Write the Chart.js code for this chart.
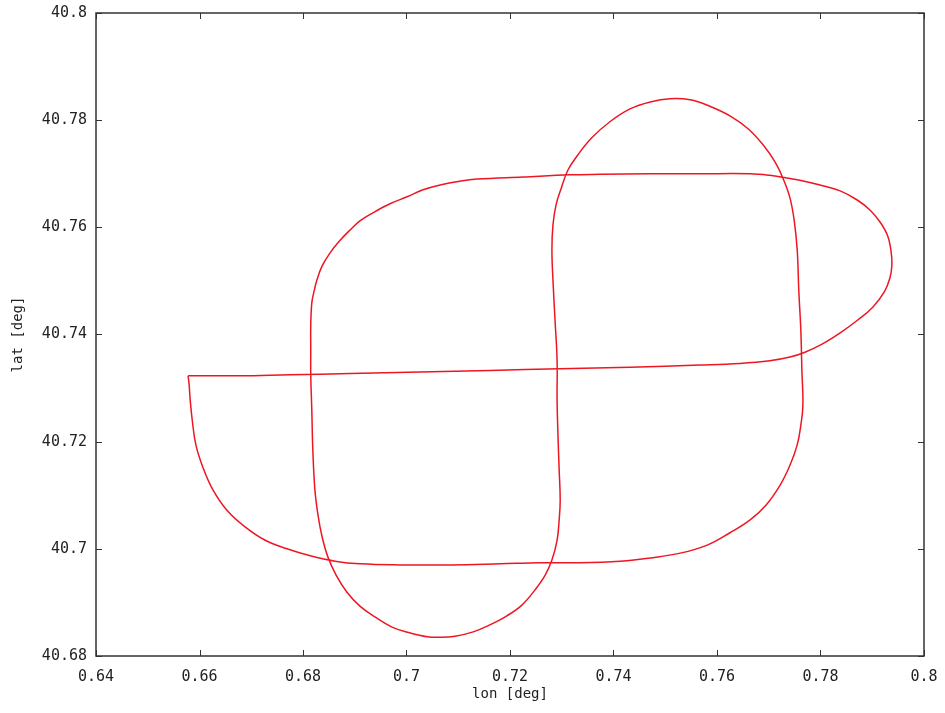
<!DOCTYPE html>
<html>
<head>
<meta charset="utf-8">
<title>lat / lon track</title>
<script src="https://cdn.jsdelivr.net/npm/chart.js@4.4.1/dist/chart.umd.min.js"></script>
<style>
  html, body { margin: 0; padding: 0; background: #fff; }
  #wrap { width: 945px; height: 713px; }
</style>
</head>
<body>
<div id="wrap"><canvas id="track"></canvas></div>
<script>
// track points in the order they were flown (one closed loop)
const lon = [
  0.6578, 0.6678, 0.6775, 0.6891, 0.7026, 0.7161, 0.7297, 0.7432, 0.7567, 0.7644,
  0.7702, 0.7741, 0.7770, 0.7803, 0.7838, 0.7872, 0.7901, 0.7923, 0.7934, 0.7938,
  0.7936, 0.7929, 0.7915, 0.7896, 0.7871, 0.7838, 0.7799, 0.7760, 0.7735, 0.7702,
  0.7664, 0.7567, 0.7471, 0.7374, 0.7316, 0.7225, 0.7136, 0.7103, 0.7065, 0.7032,
  0.7001, 0.6968, 0.6935, 0.6910, 0.6891, 0.6870, 0.6852, 0.6837, 0.6827, 0.6821,
  0.6817, 0.6815, 0.6815, 0.6815, 0.6817, 0.6819, 0.6823, 0.6829, 0.6837, 0.6848,
  0.6864, 0.6885, 0.6910, 0.6939, 0.6972, 0.7007, 0.7040, 0.7065, 0.7094, 0.7129,
  0.7161, 0.7194, 0.7223, 0.7248, 0.7268, 0.7281, 0.7291, 0.7295, 0.7297, 0.7295,
  0.7293, 0.7291, 0.7291, 0.7287, 0.7283, 0.7281, 0.7283, 0.7289, 0.7299, 0.7312,
  0.7331, 0.7358, 0.7393, 0.7432, 0.7471, 0.7509, 0.7548, 0.7586, 0.7625, 0.7660,
  0.7689, 0.7712, 0.7729, 0.7741, 0.7749, 0.7755, 0.7758, 0.7762, 0.7764, 0.7766,
  0.7762, 0.7755, 0.7741, 0.7722, 0.7695, 0.7664, 0.7625, 0.7581, 0.7529, 0.7471,
  0.7413, 0.7335, 0.7258, 0.7181, 0.7084, 0.6987, 0.6910, 0.6862, 0.6814, 0.6769,
  0.6727, 0.6688, 0.6653, 0.6626, 0.6607, 0.6593, 0.6586, 0.6582, 0.6580, 0.6578
];
const lat = [
  40.7323, 40.7323, 40.7325, 40.7327, 40.7330, 40.7333, 40.7336, 40.7339, 40.7343, 40.7346,
  40.7351, 40.7358, 40.7367, 40.7382, 40.7403, 40.7427, 40.7451, 40.7479, 40.7505, 40.7530,
  40.7558, 40.7586, 40.7610, 40.7632, 40.7651, 40.7668, 40.7679, 40.7688, 40.7692, 40.7697,
  40.7700, 40.7700, 40.7700, 40.7699, 40.7698, 40.7694, 40.7690, 40.7686, 40.7679, 40.7670,
  40.7657, 40.7644, 40.7627, 40.7612, 40.7595, 40.7574, 40.7552, 40.7528, 40.7502, 40.7479,
  40.7459, 40.7418, 40.7371, 40.7324, 40.7259, 40.7184, 40.7110, 40.7063, 40.7022, 40.6985,
  40.6951, 40.6919, 40.6893, 40.6873, 40.6854, 40.6843, 40.6836, 40.6835, 40.6837, 40.6845,
  40.6858, 40.6875, 40.6895, 40.6923, 40.6951, 40.6979, 40.7016, 40.7054, 40.7091, 40.7147,
  40.7203, 40.7278, 40.7352, 40.7427, 40.7502, 40.7558, 40.7604, 40.7642, 40.7673, 40.7707,
  40.7735, 40.7767, 40.7797, 40.7821, 40.7834, 40.7840, 40.7838, 40.7826, 40.7808, 40.7784,
  40.7754, 40.7722, 40.7688, 40.7655, 40.7614, 40.7558, 40.7483, 40.7408, 40.7334, 40.7268,
  40.7231, 40.7194, 40.7156, 40.7119, 40.7082, 40.7054, 40.7030, 40.7007, 40.6992, 40.6983,
  40.6977, 40.6974, 40.6974, 40.6972, 40.6970, 40.6970, 40.6972, 40.6977, 40.6987, 40.7000,
  40.7016, 40.7041, 40.7072, 40.7110, 40.7151, 40.7194, 40.7240, 40.7278, 40.7306, 40.7323
];

const xTickValues = [0.64, 0.66, 0.68, 0.70, 0.72, 0.74, 0.76, 0.78, 0.80];
const xTickLabels = ['0.64', '0.66', '0.68', '0.7', '0.72', '0.74', '0.76', '0.78', '0.8'];
const yTickValues = [40.68, 40.70, 40.72, 40.74, 40.76, 40.78, 40.80];
const yTickLabels = ['40.68', '40.7', '40.72', '40.74', '40.76', '40.78', '40.8'];

const labelFont = { family: 'DejaVu Sans Mono', size: 15 };
const titleFont = { family: 'DejaVu Sans Mono', size: 14 };

// box round the plot with short inward ticks on all four sides
const framePlugin = {
  id: 'frame',
  afterDatasetsDraw(chart) {
    const { ctx, chartArea: a, scales } = chart;
    ctx.save();
    ctx.strokeStyle = '#333';
    ctx.lineWidth = 1.5;
    ctx.strokeRect(a.left, a.top, a.right - a.left, a.bottom - a.top);
    ctx.lineWidth = 1;
    ctx.beginPath();
    scales.x.ticks.forEach((t, i) => {
      const px = Math.round(scales.x.getPixelForTick(i)) + 0.5;
      ctx.moveTo(px, a.bottom); ctx.lineTo(px, a.bottom - 6);
      ctx.moveTo(px, a.top); ctx.lineTo(px, a.top + 6);
    });
    scales.y.ticks.forEach((t, i) => {
      const py = Math.round(scales.y.getPixelForTick(i)) + 0.5;
      ctx.moveTo(a.left, py); ctx.lineTo(a.left + 6, py);
      ctx.moveTo(a.right, py); ctx.lineTo(a.right - 6, py);
    });
    ctx.stroke();
    ctx.restore();
  }
};

// keep the plot box where the layout padding puts it, labels may overhang
function noOverhang(s) {
  s.paddingTop = 0;
  s.paddingBottom = 0;
  s.paddingLeft = 0;
  s.paddingRight = 0;
}

new Chart(document.getElementById('track'), {
  type: 'scatter',
  data: {
    datasets: [{
      data: lon.map((x, i) => ({ x: x, y: lat[i] })),
      showLine: true,
      borderColor: 'rgb(238, 22, 34)',
      borderWidth: 1.5,
      pointRadius: 0,
      tension: 0.4,
      fill: false
    }]
  },
  options: {
    responsive: true,
    maintainAspectRatio: false,
    animation: false,
    layout: { padding: { left: 10, right: 21, top: 13, bottom: 10 } },
    plugins: { legend: { display: false }, tooltip: { enabled: false } },
    scales: {
      x: {
        type: 'linear',
        min: 0.64,
        max: 0.8,
        afterBuildTicks: (s) => { s.ticks = xTickValues.map(v => ({ value: v })); },
        afterFit: (s) => { s.height = 47; noOverhang(s); },
        grid: { display: false, drawTicks: false },
        border: { display: false },
        ticks: {
          autoSkip: false,
          maxRotation: 0,
          padding: 12,
          color: '#222',
          font: labelFont,
          callback: (v, i) => xTickLabels[i]
        },
        title: { display: true, text: 'lon [deg]', color: '#222', font: titleFont, padding: 0 }
      },
      y: {
        type: 'linear',
        min: 40.68,
        max: 40.8,
        afterBuildTicks: (s) => { s.ticks = yTickValues.map(v => ({ value: v })); },
        afterFit: (s) => { s.width = 86; noOverhang(s); },
        grid: { display: false, drawTicks: false },
        border: { display: false },
        ticks: {
          autoSkip: false,
          padding: 9,
          color: '#222',
          font: labelFont,
          callback: (v, i) => yTickLabels[i]
        },
        title: { display: true, text: 'lat [deg]', color: '#222', font: titleFont, padding: 0 }
      }
    }
  },
  plugins: [framePlugin]
});
</script>
</body>
</html>
